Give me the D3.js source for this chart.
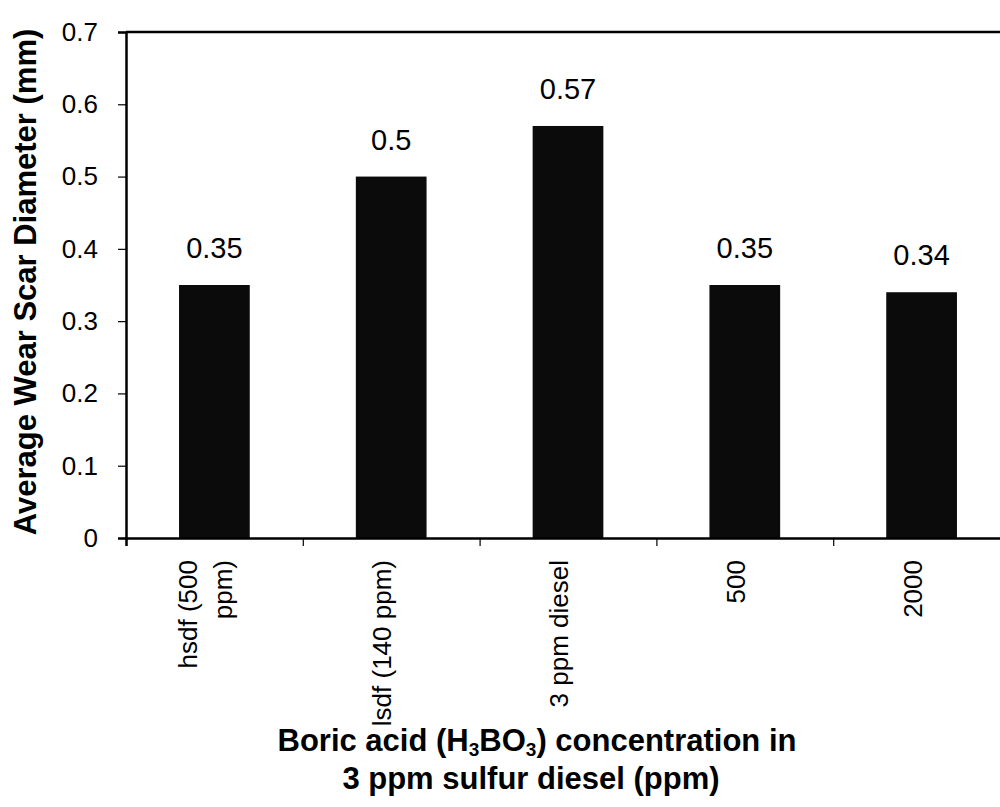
<!DOCTYPE html>
<html>
<head>
<meta charset="utf-8">
<script src="https://cdn.jsdelivr.net/npm/d3@7"></script>
<style>
  html, body { margin: 0; padding: 0; background: #fff; }
  svg { display: block; }
  text { font-family: Arial, "Liberation Sans", sans-serif; fill: #000; }
</style>
</head>
<body>
<svg id="chart" width="1000" height="807"></svg>
<script>
// ---- data ----
const categories = ["hsdf (500 ppm)", "lsdf (140 ppm)", "3 ppm diesel", "500", "2000"];
const categoryLines = [["hsdf (500", "ppm)"], ["lsdf (140 ppm)"], ["3 ppm diesel"], ["500"], ["2000"]];
const values = [0.35, 0.5, 0.57, 0.35, 0.34];
const valueLabels = ["0.35", "0.5", "0.57", "0.35", "0.34"];
const yTicks = [0, 0.1, 0.2, 0.3, 0.4, 0.5, 0.6, 0.7];
const yTickLabels = ["0", "0.1", "0.2", "0.3", "0.4", "0.5", "0.6", "0.7"];
const yTitle = "Average Wear Scar Diameter (mm)";

// ---- layout ----
const mLeft = 126, mRight = 1010, mTop = 32, mBottom = 538;
const svg = d3.select("#chart");

const x = d3.scaleBand().domain(categories).range([mLeft, mRight])
  .paddingInner(0.6).paddingOuter(0.3);
const xEdge = d3.scaleLinear().domain([0, categories.length]).range([mLeft, mRight]);
const y = d3.scaleLinear().domain([0, 0.7]).range([mBottom, mTop]);

// bars
svg.append("g").selectAll("rect").data(values).join("rect")
  .attr("x", (d, i) => x(categories[i]))
  .attr("y", d => y(d))
  .attr("width", x.bandwidth())
  .attr("height", d => y(0) - y(d))
  .attr("fill", "#0b0b0b");

// top border
svg.append("line")
  .attr("x1", mLeft).attr("x2", mRight)
  .attr("y1", y(0.7)).attr("y2", y(0.7))
  .attr("stroke", "#000").attr("stroke-width", 2.5);

// y axis
const yAxis = svg.append("g")
  .attr("transform", `translate(${mLeft},0)`)
  .call(d3.axisLeft(y).tickValues(yTicks).tickSize(8).tickPadding(20)
    .tickFormat((d, i) => yTickLabels[i]));
yAxis.select(".domain").attr("stroke-width", 2.5);
yAxis.selectAll(".tick line").attr("stroke-width", 1.2);
yAxis.selectAll(".tick text")
  .style("font-size", "26px").style("font-family", "Arial, 'Liberation Sans', sans-serif");

// x axis (ticks at category boundaries)
const xAxis = svg.append("g")
  .attr("transform", `translate(0,${mBottom})`)
  .call(d3.axisBottom(xEdge).tickValues(d3.range(categories.length + 1))
    .tickSize(8).tickFormat(""));
xAxis.select(".domain").attr("stroke-width", 2.5);
xAxis.selectAll(".tick line").attr("stroke-width", 1.2);

// x category labels (rotated)
const lbl = svg.append("g").selectAll("text").data(categoryLines).join("text")
  .attr("transform", (d, i) => {
    const cx = x(categories[i]) + x.bandwidth() / 2 - 9;
    const shift = (d.length - 1) * 35 / 2;
    return `translate(${cx - shift},560) rotate(-90)`;
  })
  .attr("text-anchor", "end")
  .style("font-size", "26px");
lbl.selectAll("tspan").data(d => d).join("tspan")
  .attr("x", 0)
  .attr("dy", (d, j) => j === 0 ? "0.35em" : "35px")
  .text(d => d);

// value labels
svg.append("g").selectAll("text").data(values).join("text")
  .attr("x", (d, i) => x(categories[i]) + x.bandwidth() / 2)
  .attr("y", d => y(d) - 27)
  .attr("text-anchor", "middle")
  .style("font-size", "29px")
  .text((d, i) => valueLabels[i]);

// y title
svg.append("text")
  .attr("transform", `translate(36,282) rotate(-90)`)
  .attr("text-anchor", "middle")
  .style("font-size", "31px").style("font-weight", "bold")
  .text(yTitle);

// x title
const t1 = svg.append("text")
  .attr("x", 537).attr("y", 751)
  .attr("text-anchor", "middle")
  .style("font-size", "31px").style("font-weight", "bold");
t1.append("tspan").text("Boric acid (H");
t1.append("tspan").attr("dy", 5).style("font-size", "19px").text("3");
t1.append("tspan").attr("dy", -5).text("BO");
t1.append("tspan").attr("dy", 5).style("font-size", "19px").text("3");
t1.append("tspan").attr("dy", -5).text(") concentration in");

svg.append("text")
  .attr("x", 531).attr("y", 789)
  .attr("text-anchor", "middle")
  .style("font-size", "31px").style("font-weight", "bold")
  .text("3 ppm sulfur diesel (ppm)");
</script>
</body>
</html>
